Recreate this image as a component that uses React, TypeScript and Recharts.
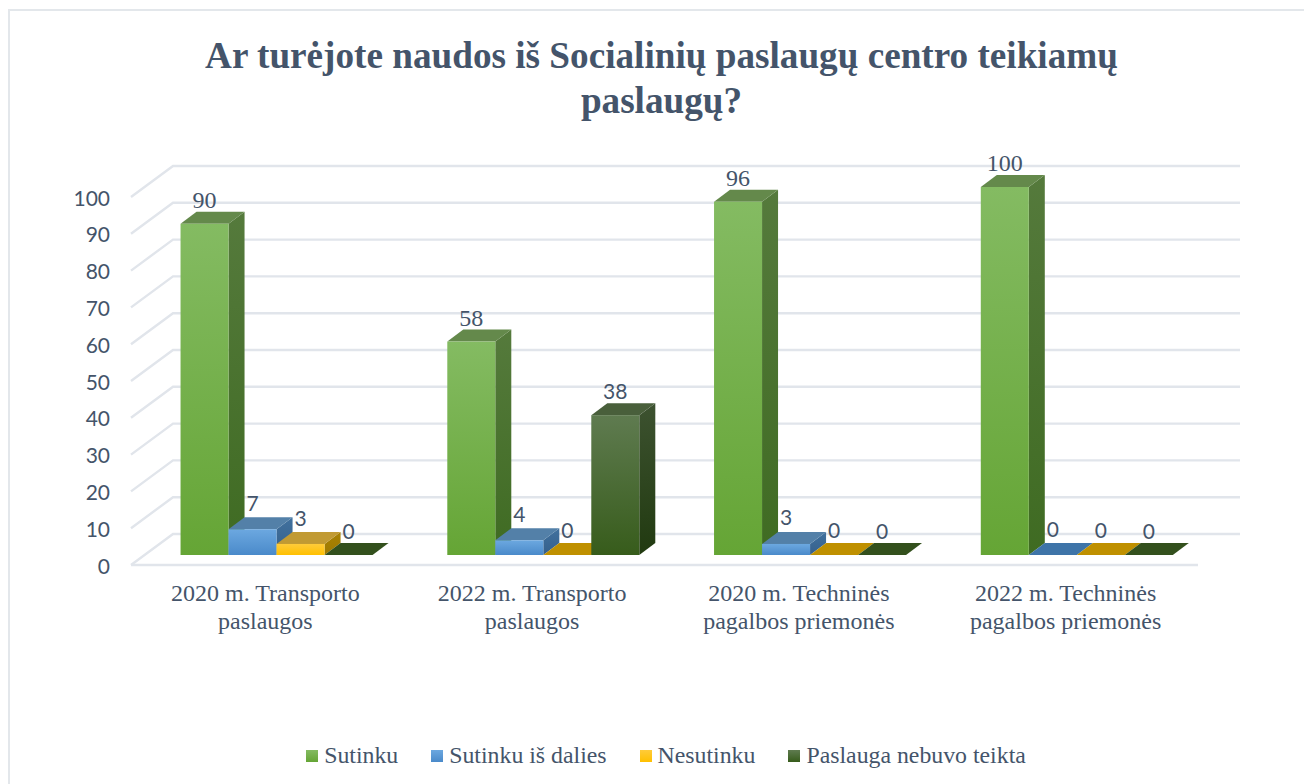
import React from "react";
import { BarChart, Bar, XAxis, YAxis, Legend, LabelList, ReferenceLine, CartesianGrid } from "recharts";

// Values
const categories = [
  "2020 m. Transporto\npaslaugos",
  "2022 m. Transporto\npaslaugos",
  "2020 m. Techninės\npagalbos priemonės",
  "2022 m. Techninės\npagalbos priemonės",
];
const sutinku = [90, 58, 96, 100];
const sutinkuIsDalies = [7, 4, 3, 0];
const nesutinku = [3, 0, 0, 0];
const nebuvoTeikta = [0, 38, 0, 0];
const yTicks = [0, 10, 20, 30, 40, 50, 60, 70, 80, 90, 100];

const chartData = categories.map((name, i) => ({
  name,
  sutinku: sutinku[i],
  sutinkuIsDalies: sutinkuIsDalies[i],
  nesutinku: nesutinku[i],
  nebuvoTeikta: nebuvoTeikta[i],
}));

const TEXT = "#44546A";
const SERIF = "'Liberation Serif', serif";
const SANS = "Lato, sans-serif";

// Depth of the fake 3D box on each bar
const DEPTH_X = 16;
const DEPTH_Y = 12;

interface BoxColors {
  id: string;
  light: string;
  dark: string;
  top: string;
  flat: string;
  sideLight: string;
  sideDark: string;
}

const GREEN: BoxColors = { id: "green", light: "#84BB62", dark: "#65A535", top: "#64894B", flat: "#64894B", sideLight: "#557A3C", sideDark: "#3F6B22" };
const BLUE: BoxColors = { id: "blue", light: "#6CA8E0", dark: "#4A8ACA", top: "#5380A8", flat: "#3E74A8", sideLight: "#41719E", sideDark: "#35608C" };
const YELLOW: BoxColors = { id: "yellow", light: "#FFCB3A", dark: "#FFC000", top: "#C19A33", flat: "#BF9000", sideLight: "#A98204", sideDark: "#9E7900" };
const DARK: BoxColors = { id: "dark", light: "#5F7B50", dark: "#375C1B", top: "#495F3B", flat: "#33501D", sideLight: "#3D5230", sideDark: "#213A10" };

const Box3D = (props: any, colors: BoxColors) => {
  const { x, y, width, height } = props;
  const r = x + width;
  const b = y + height;
  const topPts = `${x},${y} ${x + DEPTH_X},${y - DEPTH_Y} ${r + DEPTH_X},${y - DEPTH_Y} ${r},${y}`;
  if (height < 0.5) {
    return <polygon points={topPts} fill={colors.flat} />;
  }
  return (
    <g>
      <polygon
        points={`${r},${y} ${r + DEPTH_X},${y - DEPTH_Y} ${r + DEPTH_X},${b - DEPTH_Y} ${r},${b}`}
        fill={`url(#side-${colors.id})`}
      />
      <polygon points={topPts} fill={colors.top} />
      <rect x={x} y={y} width={width} height={height} fill={`url(#front-${colors.id})`} />
    </g>
  );
};

// Back wall line plus the slanted part on the side wall
const WallLine = (props: any) => {
  const { x1, x2, y1 } = props;
  return (
    <polyline
      key={y1}
      points={`${x1 - 13},${y1 + 10} ${x1 + 29},${y1 - 21} ${x2 + 29},${y1 - 21}`}
      fill="none"
      stroke="#E1E5EB"
      strokeWidth={2.4}
    />
  );
};

const FloorLine = (props: any) => {
  const { x1, x2, y1 } = props;
  return <line x1={x1 - 13} x2={x2 - 13} y1={y1 + 10} y2={y1 + 10} stroke="#E1E5EB" strokeWidth={2.4} />;
};

const YTick = ({ y, payload }: any) => (
  <text x={110} y={y + 10} textAnchor="end" dominantBaseline="central" fontFamily={SANS} fontSize={21} fill={TEXT}>
    {payload.value}
  </text>
);

const XTick = ({ x, payload }: any) => (
  <text textAnchor="middle" fontFamily={SERIF} fontSize={24} fill={TEXT}>
    {String(payload.value)
      .split("\n")
      .map((line, i) => (
        <tspan key={line} x={x - 12} y={601 + i * 28}>
          {line}
        </tspan>
      ))}
  </text>
);

const makeLabel = (font: string, size: number, lift: number) => (props: any) => {
  const { x, y, width, value } = props;
  return (
    <text x={x + width / 2} y={y - lift} textAnchor="middle" dominantBaseline="central" fontFamily={font} fontSize={size} fill={TEXT}>
      {value}
    </text>
  );
};

const series = [
  { key: "sutinku", name: "Sutinku", colors: GREEN, font: SERIF, size: 24, lift: 24 },
  { key: "sutinkuIsDalies", name: "Sutinku iš dalies", colors: BLUE, font: SANS, size: 21, lift: 27 },
  { key: "nesutinku", name: "Nesutinku", colors: YELLOW, font: SANS, size: 21, lift: 26 },
  { key: "nebuvoTeikta", name: "Paslauga nebuvo teikta", colors: DARK, font: SANS, size: 21, lift: 25 },
];

const LegendRow = () => (
  <div style={{ display: "flex", justifyContent: "center", gap: 33, fontFamily: SERIF, fontSize: 23.8, color: TEXT, paddingLeft: 28 }}>
    {series.map((s) => (
      <span key={s.key} style={{ display: "flex", alignItems: "center", gap: 6 }}>
        <span
          style={{
            width: 12,
            height: 12,
            background: `linear-gradient(${s.colors.light}, ${s.colors.dark})`,
          }}
        />
        {s.name}
      </span>
    ))}
  </div>
);

export default function App() {
  return (
    <div
      style={{
        position: "absolute",
        left: 0,
        top: 0,
        width: 1304,
        height: 784,
        background: "#fff",
        overflow: "hidden",
      }}
    >
      <div
        style={{
          position: "absolute",
          left: 8,
          top: 9,
          width: 1400,
          height: 790,
          border: "2px solid #E3E7EB",
          boxSizing: "border-box",
        }}
      />
      <div
        style={{
          position: "absolute",
          left: 0,
          top: 33,
          width: 1323,
          textAlign: "center",
          fontFamily: SERIF,
          fontWeight: "bold",
          fontSize: 37.2,
          lineHeight: "45px",
          color: TEXT,
        }}
      >
        Ar turėjote naudos iš Socialinių paslaugų centro teikiamų
        <br />
        paslaugų?
      </div>
      <BarChart
        width={1304}
        height={784}
        data={chartData}
        margin={{ top: 187, left: 84, right: 93, bottom: 129 }}
        barGap={0}
        barCategoryGap="13.7%"
        style={{ position: "absolute", left: 0, top: 0 }}
      >
        <defs>
          {[GREEN, BLUE, YELLOW, DARK].map((c) => (
            <React.Fragment key={c.id}>
              <linearGradient id={`front-${c.id}`} x1="0" y1="0" x2="0" y2="1">
                <stop offset="0%" stopColor={c.light} />
                <stop offset="100%" stopColor={c.dark} />
              </linearGradient>
              <linearGradient id={`side-${c.id}`} x1="0" y1="0" x2="0" y2="1">
                <stop offset="0%" stopColor={c.sideLight} />
                <stop offset="100%" stopColor={c.sideDark} />
              </linearGradient>
            </React.Fragment>
          ))}
        </defs>
        <CartesianGrid vertical={false} horizontal={WallLine} />
        <ReferenceLine y={0} shape={FloorLine} ifOverflow="visible" />
        <XAxis dataKey="name" height={60} axisLine={false} tickLine={false} tick={XTick} interval={0} />
        <YAxis width={60} domain={[0, 100]} ticks={yTicks} axisLine={false} tickLine={false} tick={YTick} interval={0} />
        <Legend
          height={40}
          content={LegendRow}
          wrapperStyle={{ left: 0, width: 1304, top: 742, bottom: "auto" }}
        />
        {series.map((s) => (
          <Bar
            key={s.key}
            dataKey={s.key}
            name={s.name}
            fill={s.colors.dark}
            isAnimationActive={false}
            shape={(p: any) => Box3D(p, s.colors)}
          >
            <LabelList dataKey={s.key} content={makeLabel(s.font, s.size, s.lift)} />
          </Bar>
        ))}
      </BarChart>
    </div>
  );
}
